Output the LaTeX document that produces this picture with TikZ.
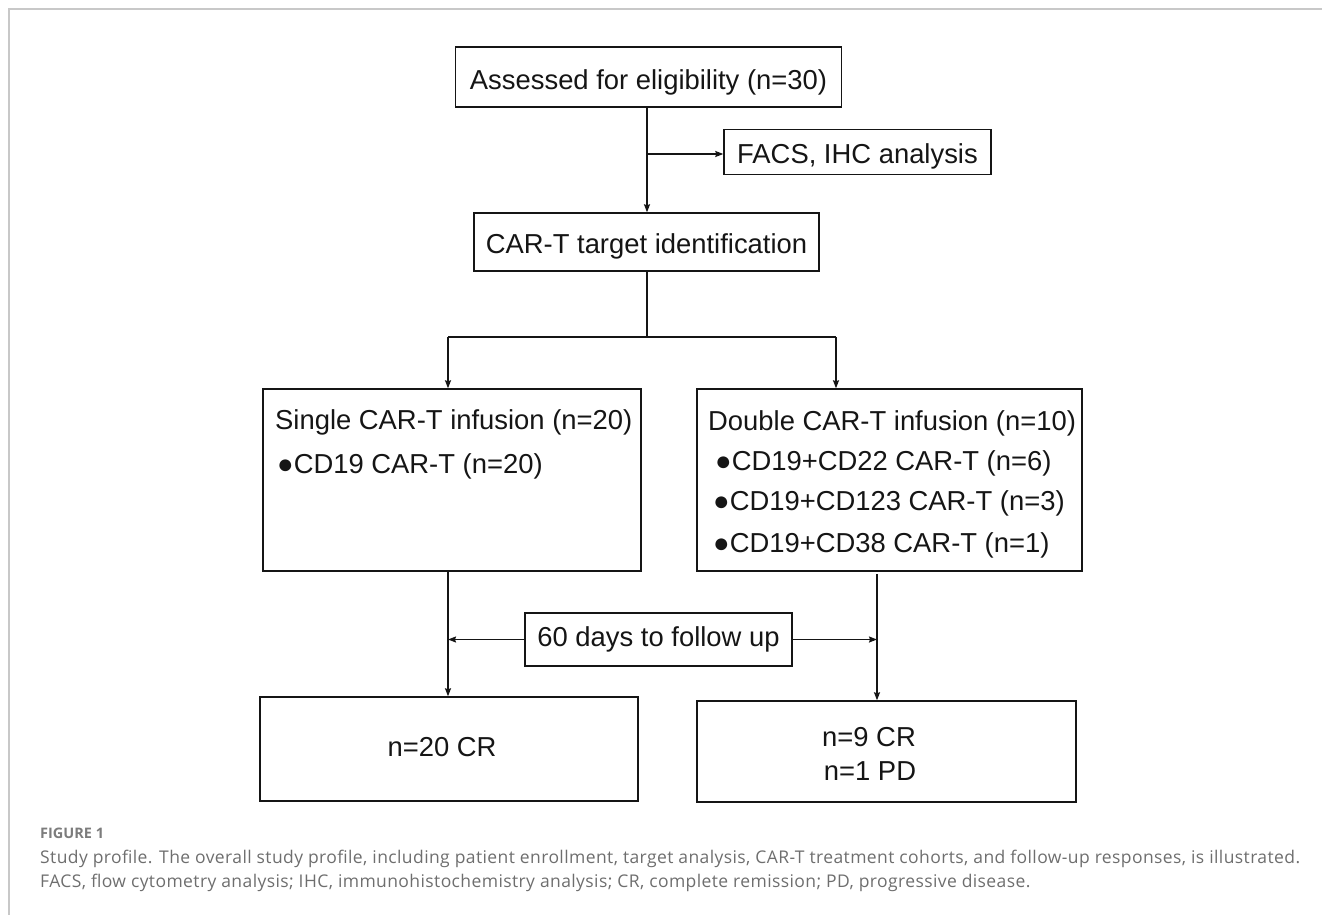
\documentclass[tikz,border=0pt]{standalone}
\usepackage{fontspec}
\setmainfont{Liberation Sans}
\newfontfamily\capfont{Open Sans}
\usetikzlibrary{arrows.meta}
\definecolor{ink}{HTML}{151515}
\definecolor{framegray}{HTML}{C8C8C8}
\definecolor{capgray}{HTML}{6E6E6E}
\begin{document}
\begin{tikzpicture}[x=1pt,y=-1pt,
  box/.style={draw=ink, line width=1.4pt, inner sep=0pt, text=ink,
    font=\fontsize{27.4}{33}\selectfont},
  low/.style={text height=26pt, text depth=0pt},
  lowish/.style={text height=22pt, text depth=0pt},
  txt/.style={inner sep=0pt, text=ink, font=\fontsize{27.4}{33}\selectfont},
  conn/.style={draw=ink, line width=1.4pt},
  arr/.style={conn, -{Stealth[length=8pt,width=6pt,inset=1pt]}},
  captxt/.style={inner sep=0pt, text=capgray, anchor=base west}]
\useasboundingbox (0,0) rectangle (1322,915);
% frame
\draw[framegray, line width=1.5pt] (9,915) -- (9,9) -- (1322,9);

% boxes
\node[box, low, minimum width=386pt, minimum height=60pt] (assess) at (648.5,77) {Assessed for eligibility (n=30)};
\node[box, lowish, minimum width=267pt, minimum height=45pt] (facs) at (857.5,152) {FACS, IHC analysis};
\node[box, lowish, minimum width=345pt, minimum height=58pt] (cart) at (646.5,242) {CAR-T target identification};
\node[box, minimum width=378pt, minimum height=182pt] (single) at (452,480) {};
\node[box, minimum width=385pt, minimum height=182pt] (double) at (889.5,480) {};
\node[box, minimum width=267pt, minimum height=53pt] (follow) at (658.5,639.5) {60 days to follow up};
\node[box, minimum width=378pt, minimum height=104pt] (resl) at (449,749) {};
\node[box, minimum width=379pt, minimum height=101pt] (resr) at (886.5,751.5) {};

% texts inside the tall boxes
\node[txt, anchor=base west] (s1) at (275,429) {Single CAR-T infusion (n=20)};
\node[txt, anchor=base west] (s2) at (277,473) {●CD19 CAR-T (n=20)};
\node[txt, anchor=base west] (d1) at (708,430) {Double CAR-T infusion (n=10)};
\node[txt, anchor=base west] (d2) at (715,470) {●CD19+CD22 CAR-T (n=6)};
\node[txt, anchor=base west] (d3) at (713,510) {●CD19+CD123 CAR-T (n=3)};
\node[txt, anchor=base west] (d4) at (713,552) {●CD19+CD38 CAR-T (n=1)};
\node[txt, anchor=base] (r1) at (442,756) {n=20 CR};
\node[txt, anchor=base] (r2) at (869,746) {n=9 CR};
\node[txt, anchor=base] (r3) at (870,780) {n=1 PD};

% connectors
\coordinate (br) at (647,154);
\coordinate (sp) at (647,337);
\coordinate (sl) at (448,337);
\coordinate (sr) at (836,337);
\coordinate (rd) at (877,574);
\draw[arr] (assess.south -| br) -- (cart.north -| br);
\draw[arr] (br) -- (br -| facs.west);
\draw[conn] (cart.south -| sp) -- (sp);
\draw[conn] (sl) -- (sr);
\draw[arr] (sl) -- (sl |- single.north);
\draw[arr] (sr) -- (sr |- double.north);
\draw[arr] (sl |- single.south) -- (sl |- resl.north);
\draw[arr] (rd) -- (rd |- resr.north);
\draw[arr] (follow.west) -- (sl |- follow.west);
\draw[arr] (follow.east) -- (rd |- follow.east);

% caption
\node[captxt, font=\capfont\fontsize{14.5}{16}\selectfont\bfseries, text=capgray!90] (fig) at (40,838) {FIGURE 1};
\node[captxt, font=\capfont\fontsize{17.5}{20}\selectfont\addfontfeature{LetterSpace=2.3}] (cap1) at (40,863) {Study profile. The overall study profile, including patient enrollment, target analysis, CAR-T treatment cohorts, and follow-up responses, is illustrated.};
\node[captxt, font=\capfont\fontsize{17.5}{20}\selectfont\addfontfeature{LetterSpace=2.3}] (cap2) at (40,887) {FACS, flow cytometry analysis; IHC, immunohistochemistry analysis; CR, complete remission; PD, progressive disease.};
\end{tikzpicture}
\end{document}
